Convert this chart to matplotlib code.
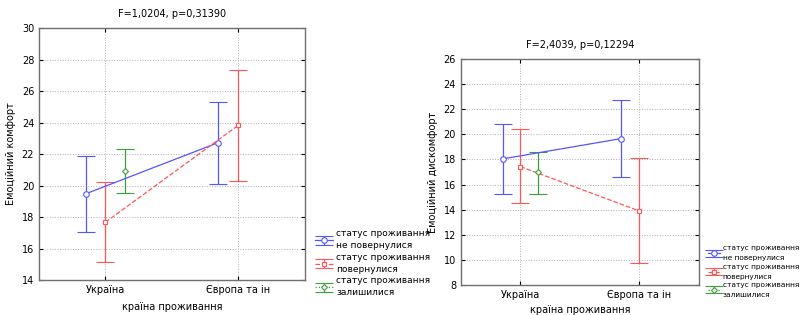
import matplotlib.pyplot as plt
import numpy as np

cats = ['Україна', 'Європа та ін']
labels = ['статус проживання\nне повернулися', 'статус проживання\nповернулися', 'статус проживання\nзалишилися']

# емоційний комфорт
k_mean = [[19.47, 22.73], [17.67, 23.83], [20.93]]
k_lo = [[17.07, 20.12], [15.16, 20.29], [19.51]]
k_hi = [[21.86, 25.31], [20.21, 27.35], [22.35]]

# емоційний дискомфорт
d_mean = [[18.04, 19.66], [17.43, 13.9], [16.96]]
d_lo = [[15.23, 16.63], [14.51, 9.78], [15.25]]
d_hi = [[20.85, 22.74], [20.4, 18.1], [18.57]]

colors = ['#5555ff', '#ff5555', '#3aa03a']
styles = ['-', '--', ':']
markers = ['o', 's', 'D']
msizes = [4, 3.5, 3]
offsets = [-0.15, 0.0, 0.15]

plt.rcParams['font.family'] = ['DejaVu Sans']
fig = plt.figure(figsize=(8.03, 3.15), dpi=100)


def draw(ax, means, lo, hi, ylim, yticks, title, ylabel, leg_pos, leg_fs, hl, ls, xpad):
    handles = []
    for i in range(3):
        x = np.arange(len(means[i])) + offsets[i]
        m = np.array(means[i])
        err = [m - np.array(lo[i]), np.array(hi[i]) - m]
        h = ax.errorbar(x, m, yerr=err, color=colors[i], ls=styles[i], lw=0.9,
                        marker=markers[i], ms=msizes[i], mfc='white', mec=colors[i],
                        mew=0.8, capsize=6.5, elinewidth=0.9, capthick=0.9)
        handles.append(h)
    ax.set_xlim(-0.5, 1.5)
    ax.set_ylim(*ylim)
    ax.set_yticks(yticks)
    ax.set_xticks([0, 1])
    ax.set_xticklabels(cats, fontsize=7)
    ax.tick_params(axis='y', labelsize=7, direction='in', right=True, length=3)
    ax.tick_params(axis='x', direction='in', top=True, length=3)
    ax.grid(True, ls=':', color='#b0b0b0', lw=0.7)
    for s in ax.spines.values():
        s.set_color('#707070')
        s.set_linewidth(1.0)
    ax.set_title(title, fontsize=7, pad=8)
    ax.set_ylabel(ylabel, fontsize=7)
    ax.set_xlabel('країна проживання', fontsize=7, labelpad=xpad)
    leg = fig.legend(handles, labels, loc='lower left', bbox_to_anchor=leg_pos,
                     fontsize=leg_fs, frameon=False, handlelength=hl,
                     labelspacing=0.3, borderaxespad=0, handletextpad=0.3)
    for t in leg.get_texts():
        t.set_linespacing(ls)


ax1 = fig.add_axes([0.0486, 0.111, 0.331, 0.80])
draw(ax1, k_mean, k_lo, k_hi, (14, 30), range(14, 31, 2),
     'F=1,0204, p=0,31390', 'Емоційний комфорт', (0.388, 0.045), 6.5, 2.0, 1.4, 5)

ax2 = fig.add_axes([0.574, 0.095, 0.296, 0.718])
draw(ax2, d_mean, d_lo, d_hi, (8, 26), range(8, 27, 2),
     'F=2,4039, p=0,12294', 'Емоційний дискомфорт', (0.878, 0.045), 5.3, 1.7, 1.8, 4)

plt.savefig('out.png', dpi=100)
